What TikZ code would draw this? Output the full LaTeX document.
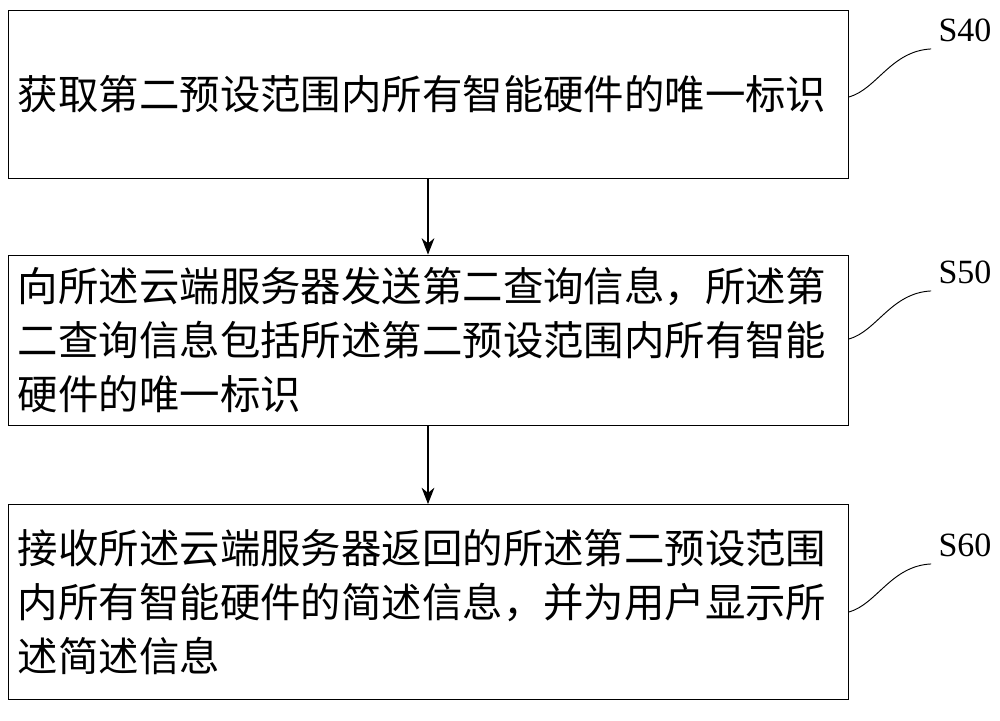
\documentclass[tikz,border=0pt]{standalone}
\usepackage{fontspec}
\setmainfont{Liberation Serif}
\newfontfamily\cjk{Noto Sans CJK SC}
\usetikzlibrary{arrows.meta}
\tikzset{
  stepbox/.style={draw, line width=0.8pt, minimum width=25.2cm, text width=24.6cm, align=left, inner sep=0pt, font=\cjk\fontsize{34.5}{46}\selectfont},
  flow/.style={-{Stealth[length=14pt,width=11pt]}, line width=0.9pt},
  tag/.style={font=\fontsize{29}{32}\selectfont},
  hook/.style={line width=0.8pt}
}
\begin{document}
\begin{tikzpicture}[x=0.03cm, y=-0.03cm]
  \useasboundingbox (0,0) rectangle (1000,720);

  %%%%%%%%%% Boxes %%%%%%%%%%
  \node[stepbox, minimum height=5.04cm] (s40) at (428,94) {获取第二预设范围内所有智能硬件的唯一标识};
  \node[stepbox, minimum height=5.1cm] (s50) at (428,340) {向所述云端服务器发送第二查询信息，所述第\\二查询信息包括所述第二预设范围内所有智能\\硬件的唯一标识};
  \node[stepbox, minimum height=5.85cm] (s60) at (428,602) {接收所述云端服务器返回的所述第二预设范围\\内所有智能硬件的简述信息，并为用户显示所\\述简述信息};

  %%%%%%%%%% Arrows %%%%%%%%%%
  \draw[flow] (s40) -- (s50);
  \draw[flow] (s50) -- (s60);

  %%%%%%%%%% Step tags %%%%%%%%%%
  \node[tag] (t40) at (965,30) {S40};
  \node[tag] (t50) at (965,272) {S50};
  \node[tag] (t60) at (965,545) {S60};
  \foreach \s/\y in {40/97,50/339,60/612}
  {
    \coordinate (e\s) at (849,\y);
    \draw[hook] (e\s) .. controls +(28,-8) and +(-40,2) .. ([xshift=-0.1cm,yshift=-0.1cm]t\s.south west);
  }
\end{tikzpicture}
\end{document}
